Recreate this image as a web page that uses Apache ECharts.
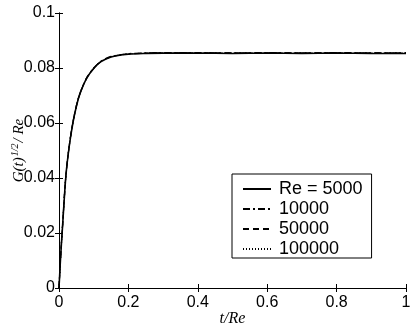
<!DOCTYPE html>
<html>
<head>
<meta charset="UTF-8">
<title>G(t) vs t/Re</title>
<script src="https://cdn.jsdelivr.net/npm/echarts@6/dist/echarts.min.js"></script>
<style>
  html, body { margin: 0; padding: 0; background: #fff; }
  #main { width: 415px; height: 325px; }
</style>
</head>
<body>
<div id="main"></div>
<script>
// t/Re sample points
const tVals = [0, 0.005, 0.01, 0.02, 0.03, 0.04, 0.05, 0.06, 0.08, 0.1, 0.12, 0.15, 0.2, 0.25, 0.3, 0.4, 0.5, 0.6, 0.7, 0.8, 0.9, 1.0];

// G(t)^(1/2)/Re for each Reynolds number
const re5000   = [0, 0.0120, 0.0220, 0.0410, 0.0520, 0.0600, 0.0660, 0.0705, 0.0763, 0.0798, 0.0822, 0.0840, 0.0850, 0.0853, 0.0854, 0.0854, 0.0853, 0.0854, 0.0853, 0.0854, 0.0853, 0.0853];
const re10000  = [0, 0.0121, 0.0222, 0.0412, 0.0522, 0.0602, 0.0662, 0.0707, 0.0765, 0.0800, 0.0824, 0.0842, 0.0852, 0.0855, 0.0856, 0.0856, 0.0855, 0.0856, 0.0855, 0.0856, 0.0855, 0.0855];
const re50000  = [0, 0.0120, 0.0221, 0.0411, 0.0521, 0.0601, 0.0661, 0.0706, 0.0764, 0.0799, 0.0823, 0.0841, 0.0851, 0.0854, 0.0855, 0.0855, 0.0855, 0.0855, 0.0855, 0.0855, 0.0855, 0.0855];
const re100000 = [0, 0.0120, 0.0221, 0.0411, 0.0521, 0.0601, 0.0661, 0.0706, 0.0764, 0.0799, 0.0823, 0.0841, 0.0851, 0.0854, 0.0855, 0.0855, 0.0854, 0.0855, 0.0854, 0.0855, 0.0854, 0.0854];

const seriesNames = ['Re = 5000', '10000', '50000', '100000'];
const seriesData = [re5000, re10000, re50000, re100000];
const dashTypes = ['solid', [7, 3, 2, 3], [6, 4], [1, 2]];

const xTicks = { min: 0, max: 1, interval: 0.2 };
const yTicks = { min: 0, max: 0.1, interval: 0.02 };

const chart = echarts.init(document.getElementById('main'), null, { renderer: 'canvas' });

const axisFont = { color: '#000', fontFamily: 'Liberation Sans, Arial, sans-serif', fontSize: 16 };
const boxAxis = (extra) => Object.assign({
  type: 'value',
  axisLine: { show: true, lineStyle: { color: '#000', width: 1 } },
  axisTick: { show: true, inside: true, length: 4, lineStyle: { color: '#000' } },
  splitLine: { show: false }
}, extra);

let option = {
  animation: false,
  backgroundColor: '#fff',
  grid: { left: 59, right: 9, top: 13, bottom: 37, containLabel: false, outerBoundsMode: 'none' },
  legend: {
    orient: 'vertical',
    left: 232,
    top: 174,
    itemWidth: 28,
    itemHeight: 12,
    itemGap: 2,
    padding: [6, 9, 0, 10],
    borderColor: '#000',
    borderWidth: 1,
    backgroundColor: '#fff',
    itemStyle: { opacity: 0 },
    textStyle: {
      color: '#000', fontFamily: 'Liberation Sans, Arial, sans-serif', fontSize: 18,
      lineHeight: 18, padding: [0, 0, 0, 3]
    },
    data: seriesNames
  },
  xAxis: [
    boxAxis(Object.assign({
      position: 'bottom',
      name: 't/Re',
      nameLocation: 'middle',
      nameGap: 23,
      nameMoveOverlap: false,
      nameTextStyle: { color: '#000', fontFamily: 'Liberation Serif, Times New Roman, serif', fontStyle: 'italic', fontSize: 16 },
      axisLabel: Object.assign({ margin: 7 }, axisFont)
    }, xTicks)),
    boxAxis(Object.assign({ position: 'top', axisLabel: { show: false } }, xTicks))
  ],
  yAxis: [
    boxAxis(Object.assign({
      position: 'left',
      name: '{a|G(t)}{s|1/2}{a|/ Re}',
      nameLocation: 'middle',
      nameGap: 30,
      nameMoveOverlap: false,
      nameTextStyle: {
        color: '#000',
        rich: {
          a: { fontFamily: 'Liberation Serif, serif', fontStyle: 'italic', fontSize: 15, color: '#000' },
          s: { fontFamily: 'Liberation Serif, serif', fontStyle: 'italic', fontSize: 10, color: '#000', padding: [0, 1, 9, 1] }
        }
      },
      axisLabel: Object.assign({ margin: 4 }, axisFont)
    }, yTicks)),
    boxAxis(Object.assign({ position: 'right', axisLabel: { show: false } }, yTicks))
  ],
  series: seriesNames.map((name, i) => ({
    name: name,
    type: 'line',
    symbol: 'none',
    smooth: 0.3,
    data: tVals.map((t, k) => [t, seriesData[i][k]]),
    lineStyle: { color: '#000', width: i === 0 ? 1.6 : 1.2, type: dashTypes[i] },
    itemStyle: { color: '#000' },
    z: 10 - i
  }))
};

chart.setOption(option);
</script>
</body>
</html>
